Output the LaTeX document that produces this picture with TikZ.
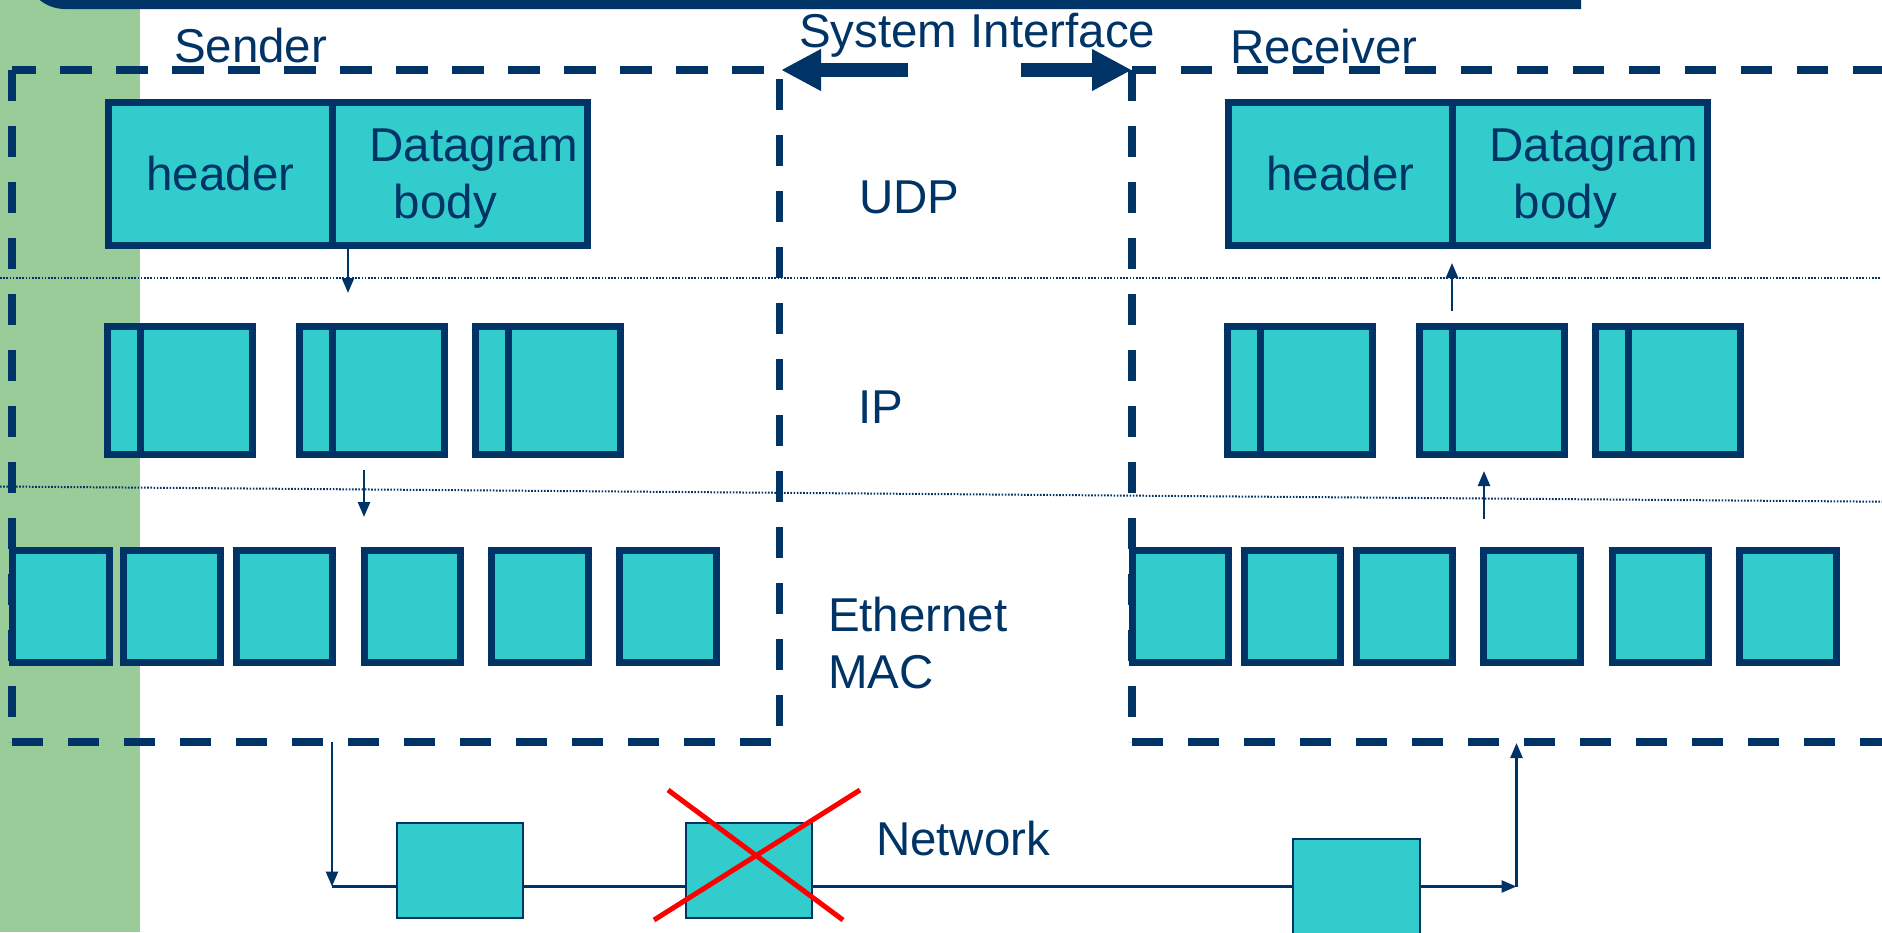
\documentclass[tikz,border=0pt]{standalone}
\usepackage{fontspec}
\setmainfont{Liberation Sans}
\usetikzlibrary{arrows.meta}
\definecolor{navy}{HTML}{003366}
\definecolor{pktfill}{HTML}{33CCCC}
\definecolor{sidebar}{HTML}{99CC99}
\newcommand\lblfont{\fontsize{47.5}{57.5}\selectfont}
\begin{document}
\begin{tikzpicture}[x=1pt,y=-1pt,
  every node/.style={inner sep=0pt,outer sep=0pt},
  txt/.style={text=navy,font=\lblfont},
  pkt/.style={draw=navy,fill=pktfill,line width=7pt,text=navy,font=\lblfont},
  netbox/.style={draw=navy,fill=pktfill,line width=2pt},
  dashbox/.style={draw=navy,line width=7.5pt,dash pattern=on 31.25pt off 24.75pt},
  layerline/.style={draw=navy,line width=2pt,dash pattern=on 1.6pt off 1.6pt},
  conn/.style={draw=navy,line width=2.5pt},
  flowtip/.style={-{Triangle[length=15pt,width=12pt]}},
  bigarrow/.style={draw=navy,line width=13.3pt,-{Triangle[length=40pt,width=39pt]}},
  redcross/.style={draw=red,line width=5pt}]

\useasboundingbox (0,0) rectangle (1882,932);
\clip (0,0) rectangle (1882,932);

% side strip and title bar
\fill[sidebar] (0,0) rectangle (140,932);
\fill[navy] (25,-60) -- (25,-31) arc[start angle=180,end angle=90,radius=40] -- (1581,9) -- (1581,-60) -- cycle;

% layer separators
\draw[layerline] (0,277.7) -- (1882,277.7);
\draw[layerline] (0,486.5) -- (1882,501.7);

% sender system boundary
\draw[dashbox,dash phase=7.7pt] (12,70) -- (779.5,70);
\draw[dashbox] (12,70) -- (12,742);
\draw[dashbox] (12,742) -- (779.5,742);
\draw[dashbox,dash phase=39.8pt] (779.5,742) -- (779.5,70);

% receiver system boundary
\draw[dashbox,dash phase=7.5pt] (1132,70) -- (1900,70);
\draw[dashbox] (1132,70) -- (1132,742);
\draw[dashbox] (1132,742) -- (1900,742);

% system interface arrows
\coordinate (sysLtail) at (907.6,70);
\coordinate (sysLtip) at (781,70);
\coordinate (sysRtail) at (1020.5,70);
\coordinate (sysRtip) at (1132,70);
\draw[bigarrow] (sysLtail) -- (sysLtip);
\draw[bigarrow] (sysRtail) -- (sysRtip);

% UDP datagrams
\node[pkt,minimum width=224pt,minimum height=143pt] (s-hdr) at (220.5,174) {header};
\node[pkt,minimum width=255pt,minimum height=143pt] (s-body) at (460,174) {};
\node[txt,anchor=north west,align=left] (s-dg) at (369.3,128.5) {Datagram\\\hspace*{24.6pt}body};
\node[pkt,minimum width=224pt,minimum height=143pt] (r-hdr) at (1340.5,174) {header};
\node[pkt,minimum width=255pt,minimum height=143pt] (r-body) at (1580,174) {};
\node[txt,anchor=north west,align=left] (r-dg) at (1489.3,128.5) {Datagram\\\hspace*{24.6pt}body};

% IP fragments
\foreach \L [count=\i] in {104.4,296.4,472.3} {
  \node[pkt,minimum width=32.5pt,minimum height=128.6pt] (s-ip\i h) at (\L+19.75,390.5) {};
  \node[pkt,minimum width=112.5pt,minimum height=128.6pt] (s-ip\i) at (\L+92.25,390.5) {};
}
\foreach \L [count=\i] in {1224.4,1416.4,1592.3} {
  \node[pkt,minimum width=32.5pt,minimum height=128.6pt] (r-ip\i h) at (\L+19.75,390.5) {};
  \node[pkt,minimum width=112.5pt,minimum height=128.6pt] (r-ip\i) at (\L+92.25,390.5) {};
}

% Ethernet frames
\foreach \L [count=\i] in {9.2,120.4,232.7,360.7,488.3,616.3} {
  \node[pkt,minimum width=96.5pt,minimum height=112.3pt] (s-eth\i) at (\L+51.75,606.35) {};
}
\foreach \L [count=\i] in {1128.8,1240.7,1352.6,1480.3,1608.5,1736.2} {
  \node[pkt,minimum width=96.5pt,minimum height=112.3pt] (r-eth\i) at (\L+51.75,606.35) {};
}

% layer labels
\node[txt,anchor=base west] (sender) at (174,62.5) {Sender};
\node[txt,anchor=base west] (sysif) at (799,47) {System Interface};
\node[txt,anchor=base west] (receiver) at (1230,63) {Receiver};
\node[txt,anchor=base west] (udp) at (859,213) {UDP};
\node[txt,anchor=base west] (ip) at (858.6,423) {IP};
\node[txt,anchor=north west,align=left] (mac) at (828,597) {Ethernet\\MAC};
\node[txt,anchor=base west] (network) at (876,855) {Network};

% passing down / up the stack
\coordinate (udpDownTip) at (348,293);
\draw[conn,flowtip] (s-body.south -| udpDownTip) -- (udpDownTip);
\coordinate (ipDownTail) at (364,470);
\coordinate (ipDownTip) at (364,517);
\draw[conn,flowtip] (ipDownTail) -- (ipDownTip);
\coordinate (ethUpTail) at (1484,519);
\coordinate (ethUpTip) at (1484,471);
\draw[conn,flowtip] (ethUpTail) -- (ethUpTip);
\coordinate (ipUpTail) at (1452,311);
\coordinate (ipUpTip) at (1452,263);
\draw[conn,flowtip] (ipUpTail) -- (ipUpTip);

% network path
\node[netbox,minimum width=126pt,minimum height=95pt] (n1) at (460,870.5) {};
\node[netbox,minimum width=126pt,minimum height=95pt] (n2) at (749,870.5) {};
\node[netbox,minimum width=126.4pt,minimum height=162pt] (n3) at (1356.6,919.7) {};
\coordinate (dropS) at (332,742);
\coordinate (cornerS) at (332,886.5);
\coordinate (cornerR) at (1516.5,886.5);
\coordinate (riseR) at (1516.5,743);
\draw[conn,flowtip] (dropS) -- (cornerS);
\draw[conn] (cornerS) -- (n1.west |- cornerS);
\draw[conn] (n1.east |- cornerS) -- (n2.west |- cornerS);
\draw[conn] (n2.east |- cornerS) -- (n3.west |- cornerS);
\draw[conn,flowtip] (n3.east |- cornerR) -- (cornerR);
\draw[conn,flowtip] (cornerR) -- (riseR);

% lost packet
\draw[redcross] (668,790) -- (843,920);
\draw[redcross] (860,790) -- (654,920);
\end{tikzpicture}
\end{document}
